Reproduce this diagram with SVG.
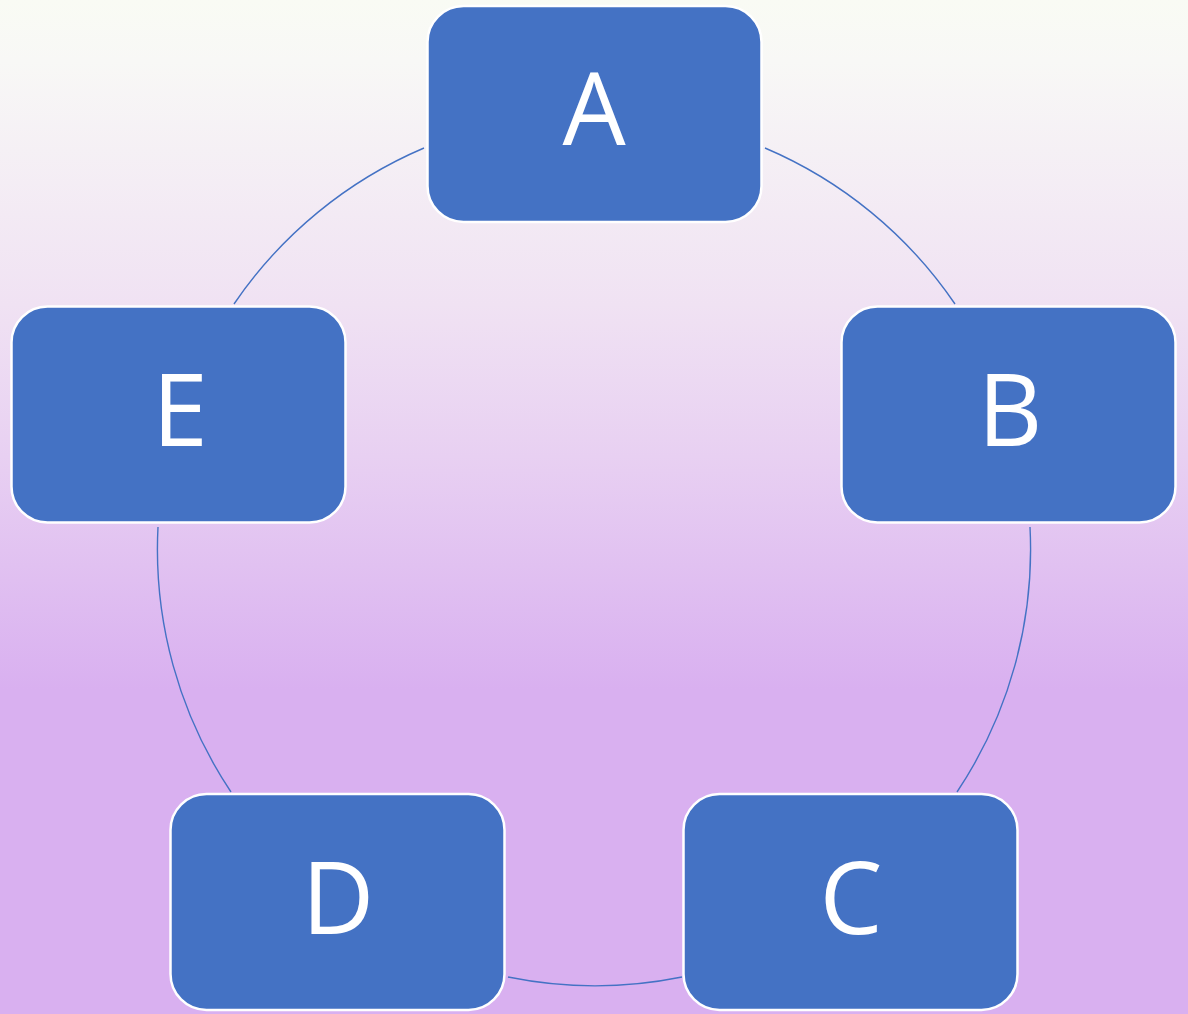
<svg xmlns="http://www.w3.org/2000/svg" width="1188" height="1014" viewBox="0 0 1188 1014">
<defs>
<linearGradient id="bg" x1="0" y1="0" x2="0" y2="1">
<stop offset="0" stop-color="#f9fbf4"/>
<stop offset="0.06" stop-color="#f8f8f6"/>
<stop offset="0.3" stop-color="#f0e2f3"/>
<stop offset="0.45" stop-color="#e8d0f2"/>
<stop offset="0.68" stop-color="#d9b0f0"/>
<stop offset="1" stop-color="#d9b0f0"/>
</linearGradient>
<style>
.node rect{fill:#4472c4;stroke:#ffffff;stroke-width:2.5}
.node text{fill:#ffffff;font-family:"Open Sans","Liberation Sans",sans-serif;font-size:100px;text-anchor:middle}
.conn path{fill:none;stroke:#4472c4;stroke-width:1.4}
</style>
</defs>
<rect x="0" y="0" width="1188" height="1014" fill="url(#bg)"/>
<g id="connectors" class="conn">
<path d="M765,148 A436.5,436.5 0 0 1 955,304"/>
<path d="M1030,527 A436.5,436.5 0 0 1 957,792"/>
<path d="M682,977 A436.5,436.5 0 0 1 508,977"/>
<path d="M231,792 A436.5,436.5 0 0 1 158,527"/>
<path d="M234,304 A436.5,436.5 0 0 1 424,148"/>
</g>
<g id="node-A" class="node"><rect x="427.5" y="6" width="334" height="216" rx="36"/><text x="594" y="145">A</text></g>
<g id="node-B" class="node"><rect x="841.5" y="306.5" width="334" height="216" rx="36"/><text x="1010" y="446">B</text></g>
<g id="node-C" class="node"><rect x="683.5" y="794" width="334" height="216" rx="36"/><text x="851" y="934">C</text></g>
<g id="node-D" class="node"><rect x="170.5" y="794" width="334" height="216" rx="36"/><text x="338" y="934">D</text></g>
<g id="node-E" class="node"><rect x="11.5" y="306.5" width="334" height="216" rx="36"/><text x="180" y="446">E</text></g>
</svg>
